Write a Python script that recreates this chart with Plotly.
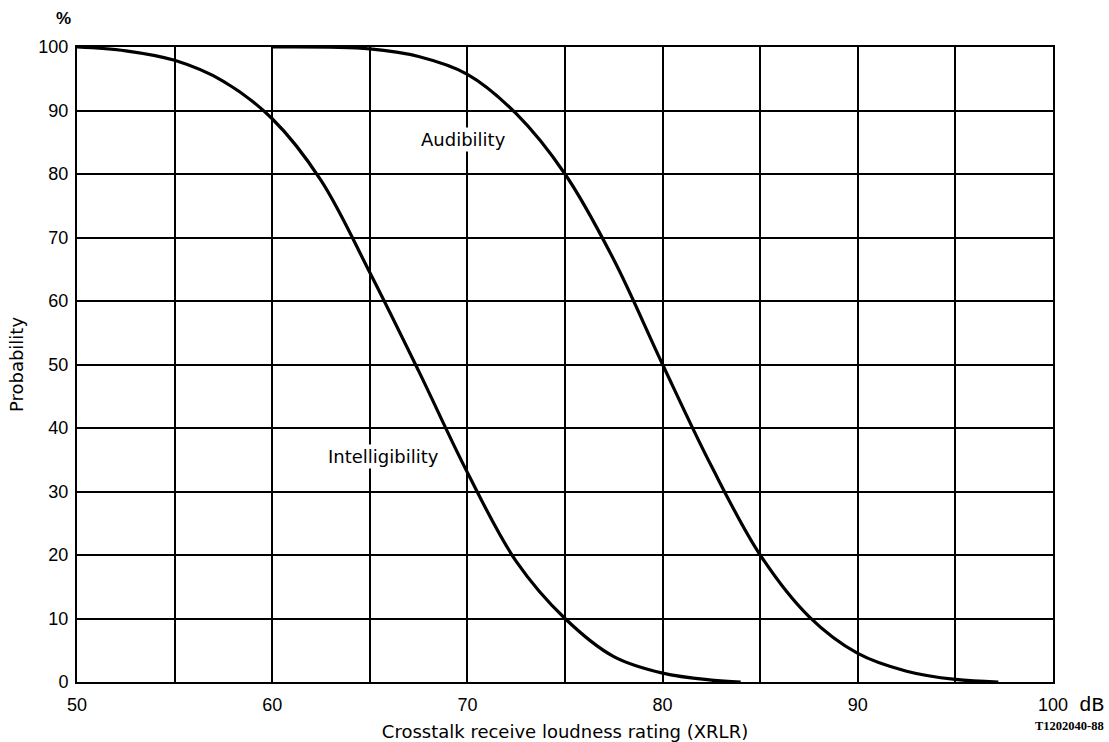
import plotly.graph_objects as go

# Data
intel_x = [50, 52.5, 55, 57.5, 60, 62.5, 65, 67.5, 70, 72.5, 75, 77.5, 80, 82.5, 84]
intel_y = [100, 99.4, 97.9, 94.6, 88.7, 79, 64.5, 49, 33, 19, 10, 4, 1.4, 0.3, 0]

aud_x = [60, 65, 67.5, 70, 72.5, 75, 77.5, 80, 82.5, 85, 87.5, 90, 92.5, 95, 97.2]
aud_y = [100, 99.7, 98.5, 95.7, 89.5, 80, 66.5, 50, 34, 20, 10.3, 4.5, 1.7, 0.4, 0]

x_ticks = [50, 55, 60, 65, 70, 75, 80, 85, 90, 95, 100]
x_ticktext = ["50", "", "60", "", "70", "", "80", "", "90", "", "100"]
y_ticks = [0, 10, 20, 30, 40, 50, 60, 70, 80, 90, 100]

TICKFONT = "Liberation Sans"
LABELFONT = "DejaVu Sans"

L, R, T, B = 77, 56, 47, 60
W, H = 1109, 742

fig = go.Figure()
for xs, ys in ((intel_x, intel_y), (aud_x, aud_y)):
    fig.add_trace(go.Scatter(x=xs, y=ys, mode="lines",
                             line=dict(color="black", width=3.2, shape="spline", smoothing=1.0),
                             showlegend=False, hoverinfo="x+y"))

fig.update_layout(
    width=W, height=H,
    margin=dict(l=L, r=R, t=T, b=B, autoexpand=False),
    paper_bgcolor="white", plot_bgcolor="white",
    font=dict(family=TICKFONT, color="black"),
    xaxis=dict(range=[50, 100], tickvals=x_ticks, ticktext=x_ticktext, automargin=False,
               showgrid=True, gridcolor="black", gridwidth=2,
               showline=True, linecolor="black", linewidth=2, mirror=True,
               zeroline=False, ticks="", tickfont=dict(size=18, family=TICKFONT),
               ticklabelstandoff=5,
               title=dict(text="Crosstalk receive loudness rating (XRLR)",
                          font=dict(size=18, family=LABELFONT), standoff=12)),
    yaxis=dict(range=[0, 100], tickvals=y_ticks, automargin=False,
               showgrid=True, gridcolor="black", gridwidth=2,
               showline=True, linecolor="black", linewidth=2, mirror=True,
               zeroline=False, ticks="", tickfont=dict(size=18, family=TICKFONT),
               ticklabelstandoff=3,
               title=dict(text="Probability", font=dict(size=18, family=LABELFONT), standoff=10)),
)

fig.add_annotation(text="Audibility", x=69.8, y=85.5, xref="x", yref="y", showarrow=False,
                   font=dict(size=18, family=LABELFONT), bgcolor="white")
fig.add_annotation(text="Intelligibility", x=65.7, y=35.5, xref="x", yref="y", showarrow=False,
                   font=dict(size=18, family=LABELFONT), bgcolor="white")

pw, ph = W - L - R, H - T - B
def px(xp, yp):
    return (xp - L) / pw, 1 - (yp - T) / ph

for text, xp, yp, xa, fnt in (
    ("<b>%</b>", 63, 19, "center", dict(size=17, family=TICKFONT)),
    ("dB", 1091, 705, "center", dict(size=21, family="Liberation Mono")),
    ("<b>T1202040-88</b>", 1106, 726, "right", dict(size=12.5, family="Liberation Serif")),
):
    ax, ay = px(xp, yp)
    fig.add_annotation(text=text, x=ax, y=ay, xref="paper", yref="paper", showarrow=False,
                       xanchor=xa, yanchor="middle", font=fnt)

fig.write_html("out.html")
